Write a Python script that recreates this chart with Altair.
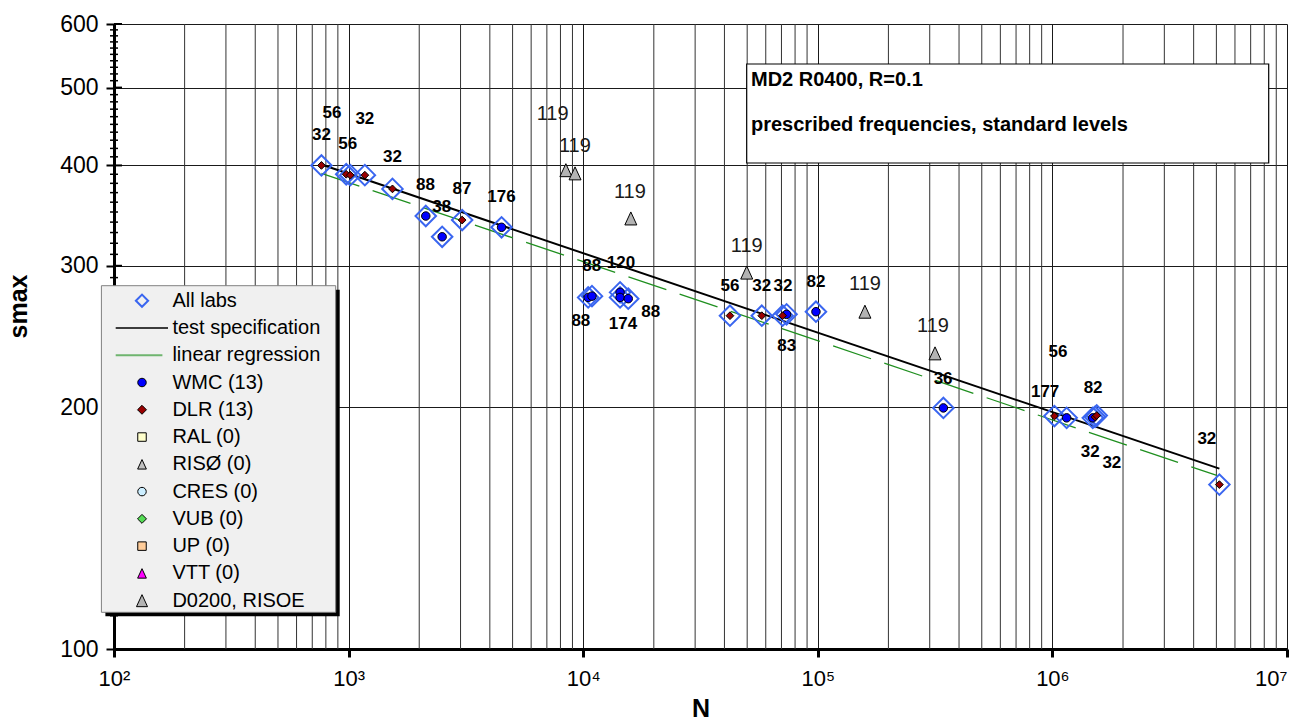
import altair as alt
import pandas as pd

FONT = "Liberation Sans"
W, H = 1173, 625

# ---------------- data ----------------
wmc_N = [2133, 2505, 4487, 10500, 10900, 14360, 14360, 15560, 73600, 98200, 343000, 1150000, 1486000]
wmc_s = [346, 326, 335, 274, 275, 278, 274, 273, 261, 263, 199.6, 194, 194]

dlr_N = [766, 977, 1017, 1173, 1538, 3048, 42230, 57700, 70800, 1020000, 1520000, 1545000, 5150000]
dlr_s = [400, 390, 389, 389, 374, 342, 260, 260, 260, 195, 194.5, 195.3, 160.2]

riso_N = [8436, 9230, 15960, 49770, 158800, 316000]
riso_s = [394.6, 391, 343.6, 294.2, 263, 233.4]

spec_N = [766, 5150000]
spec_s = [401, 167.7]
reg_N = [766, 5020000]
reg_s = [391, 164.5]

lab_text = ["32", "56", "56", "32", "32", "88", "38", "87", "176",
            "119", "119", "119",
            "88", "88", "120", "174", "88",
            "119", "56", "32", "32", "83", "82", "119", "119",
            "36", "177", "56", "82", "32", "32", "32"]
lab_N = [766, 850, 992, 1173, 1538, 2128, 2495, 3041, 4487,
         7405, 9218, 15810,
         10870, 9772, 14490, 14770, 19390,
         49770, 42230, 57700, 71070, 73700, 98240, 158900, 309900,
         342000, 931000, 1057000, 1491000, 1449000, 1792000, 4554000]
lab_s = [436, 465, 425.3, 456.6, 409.6, 378, 355.4, 373.9, 365.7,
         463.7, 422.8, 371,
         299.9, 256.3, 302.8, 254.1, 263.0,
         317.6, 283.3, 283.3, 283.3, 238.5, 286.5, 284.9, 252.6,
         217.1, 208.7, 234.0, 211.6, 175.9, 170.6, 182.7]
lab_bold = [t != "119" for t in lab_text]

legend_labels = ["All labs", "test specification", "linear regression", "WMC (13)", "DLR (13)",
                 "RAL (0)", "RISØ (0)", "CRES (0)", "VUB (0)", "UP (0)", "VTT (0)", "D0200, RISOE"]

decades = [100, 1000, 10000, 100000, 1000000, 10000000]
x_minor = [m * 10 ** k for k in range(2, 7) for m in range(2, 10)]
y_major = [100, 200, 300, 400, 500, 600]
y_minor = [v for v in range(110, 600, 10) if v % 100 != 0]

# ---------------- scales / axes ----------------
xscale = alt.Scale(type="log", domain=[100, 10000000], nice=False)
yscale = alt.Scale(type="log", domain=[100, 600], nice=False)

label_expr = ("datum.value >= 5000000 ? '10⁷' : datum.value >= 500000 ? '10⁶' : "
              "datum.value >= 50000 ? '10⁵' : datum.value >= 5000 ? '10⁴' : "
              "datum.value >= 500 ? '10³' : '10²'")

x_axis = alt.Axis(values=decades, labelExpr=label_expr, grid=True, gridColor="#1a1a1a", gridWidth=1,
                  ticks=True, tickSize=8, tickWidth=3, tickColor="black",
                  domain=True, domainColor="black", domainWidth=3,
                  labelFont=FONT, labelFontSize=22, labelColor="black", labelPadding=11,
                  labelFlush=False, labelOverlap=False,
                  labelAlign={"condition": {"test": "datum.value >= 5000000", "value": "right"},
                              "value": "center"},
                  title="N", titleFont=FONT, titleFontSize=25, titleFontWeight="bold",
                  titleColor="black", titleY=59, titleBaseline="middle")
y_axis = alt.Axis(values=y_major, format="d", grid=True, gridColor="#1a1a1a", gridWidth=1,
                  ticks=True, tickSize=8, tickWidth=2, tickColor="black",
                  domain=True, domainColor="black", domainWidth=3,
                  labelFont=FONT, labelFontSize=23, labelColor="black", labelPadding=8,
                  labelFlush=False, labelOverlap=False,
                  title="smax", titleFont=FONT, titleFontSize=25, titleFontWeight="bold",
                  titleColor="black", titleX=-96, titleY=282, titleAlign="center",
                  titleBaseline="middle")


def X(f):
    return alt.X(f, type="quantitative", scale=xscale, axis=x_axis)


def Y(f):
    return alt.Y(f, type="quantitative", scale=yscale, axis=y_axis)


one = pd.DataFrame({"a": [0]})
layers = []

# minor vertical grid
layers.append(alt.Chart(pd.DataFrame({"N": x_minor})).mark_rule(color="#333333", strokeWidth=1)
              .encode(x=X("N"), y=alt.value(0), y2=alt.value(H)))
# y minor ticks (crossing the axis) and inner halves of major ticks
layers.append(alt.Chart(pd.DataFrame({"s": y_minor})).mark_rule(color="black", strokeWidth=1.5)
              .encode(y=Y("s"), x=alt.value(-4), x2=alt.value(4)))
layers.append(alt.Chart(pd.DataFrame({"s": y_major[1:]})).mark_rule(color="black", strokeWidth=2)
              .encode(y=Y("s"), x=alt.value(0), x2=alt.value(8)))

# lines
layers.append(alt.Chart(pd.DataFrame({"N": reg_N, "s": reg_s})).mark_line(
    color="#1f8f1f", strokeWidth=1.3, strokeDash=[40, 14]).encode(x=X("N"), y=Y("s")))
layers.append(alt.Chart(pd.DataFrame({"N": spec_N, "s": spec_s})).mark_line(
    color="black", strokeWidth=2).encode(x=X("N"), y=Y("s")))

# points
all_df = pd.DataFrame({"N": wmc_N + dlr_N, "s": wmc_s + dlr_s})
layers.append(alt.Chart(all_df).mark_point(shape="diamond", filled=False, stroke="#3a66f0",
                                           strokeWidth=2, size=420, opacity=1)
              .encode(x=X("N"), y=Y("s")))
layers.append(alt.Chart(pd.DataFrame({"N": wmc_N, "s": wmc_s})).mark_point(
    shape="circle", filled=True, fill="#0000ff", stroke="black", strokeWidth=1, size=72, opacity=1)
    .encode(x=X("N"), y=Y("s")))
layers.append(alt.Chart(pd.DataFrame({"N": dlr_N, "s": dlr_s})).mark_point(
    shape="diamond", filled=True, fill="#990000", stroke="black", strokeWidth=1, size=60, opacity=1)
    .encode(x=X("N"), y=Y("s")))
TRI = "M0,-1L0.92,1L-0.92,1Z"
layers.append(alt.Chart(pd.DataFrame({"N": riso_N, "s": riso_s})).mark_point(
    shape=TRI, filled=True, fill="#b3b3b3", stroke="black", strokeWidth=1, size=169, opacity=1)
    .encode(x=X("N"), y=Y("s")))

# data labels
lab_df = pd.DataFrame({"t": lab_text, "N": lab_N, "s": lab_s, "bold": lab_bold})
layers.append(alt.Chart(lab_df).transform_filter("datum.bold").mark_text(
    font=FONT, fontSize=17, fontWeight="bold", color="black", align="center", baseline="middle")
    .encode(x=X("N"), y=Y("s"), text="t:N"))
layers.append(alt.Chart(lab_df).transform_filter("!datum.bold").mark_text(
    font=FONT, fontSize=20, color="#1a1a1a", align="center", baseline="middle")
    .encode(x=X("N"), y=Y("s"), text="t:N"))

# annotation box
layers.append(alt.Chart(one).mark_rect(fill="white", stroke="black", strokeWidth=1.2)
              .encode(x=alt.value(632.7), x2=alt.value(1154.7), y=alt.value(40), y2=alt.value(139)))
layers.append(alt.Chart(one).mark_text(font=FONT, fontSize=20, fontWeight="bold", color="black",
                                       align="left", baseline="middle")
              .encode(x=alt.value(637), y=alt.value(55.5), text=alt.value("MD2 R0400, R=0.1")))
layers.append(alt.Chart(one).mark_text(font=FONT, fontSize=20, fontWeight="bold", color="black",
                                       align="left", baseline="middle")
              .encode(x=alt.value(637), y=alt.value(101.2),
                      text=alt.value("prescribed frequencies, standard levels")))

# legend
LX0, LX1, LY0, LY1 = -12.6, 221.7, 261.7, 588.3
layers.append(alt.Chart(one).mark_rect(fill="black")
              .encode(x=alt.value(LX0 + 4), x2=alt.value(LX1 + 4), y=alt.value(LY0 + 4),
                      y2=alt.value(LY1 + 4)))
layers.append(alt.Chart(one).mark_rect(fill="#f0f0f0", stroke="#808080", strokeWidth=1)
              .encode(x=alt.value(LX0), x2=alt.value(LX1), y=alt.value(LY0), y2=alt.value(LY1)))

ROW0, DROW = 276.7, 27.27
SYMX, TXTX = 28, 58.4
sym_styles = {
    0: dict(shape="diamond", filled=False, stroke="#3a66f0", strokeWidth=2, size=150),
    3: dict(shape="circle", filled=True, fill="#0000ff", stroke="black", strokeWidth=1, size=72),
    4: dict(shape="diamond", filled=True, fill="#990000", stroke="black", strokeWidth=1, size=80),
    5: dict(shape="square", filled=True, fill="#ffffcc", stroke="black", strokeWidth=1, size=72),
    6: dict(shape=TRI, filled=True, fill="#c0c0c0", stroke="black", strokeWidth=1, size=90),
    7: dict(shape="circle", filled=True, fill="#cceeff", stroke="black", strokeWidth=1, size=72),
    8: dict(shape="diamond", filled=True, fill="#55dd55", stroke="black", strokeWidth=1, size=80),
    9: dict(shape="square", filled=True, fill="#ffcc99", stroke="black", strokeWidth=1, size=72),
    10: dict(shape=TRI, filled=True, fill="#ff00ff", stroke="black", strokeWidth=1, size=90),
    11: dict(shape=TRI, filled=True, fill="#b3b3b3", stroke="black", strokeWidth=1, size=144),
}
for i, lab in enumerate(legend_labels):
    yy = ROW0 + i * DROW
    if i in sym_styles:
        layers.append(alt.Chart(one).mark_point(opacity=1, **sym_styles[i])
                      .encode(x=alt.value(SYMX), y=alt.value(yy)))
    elif i == 1:
        layers.append(alt.Chart(one).mark_rule(color="black", strokeWidth=1.5)
                      .encode(x=alt.value(1.7), x2=alt.value(54), y=alt.value(yy)))
    else:
        layers.append(alt.Chart(one).mark_rule(color="#6fb56f", strokeWidth=2)
                      .encode(x=alt.value(1.7), x2=alt.value(48.4), y=alt.value(yy)))
    layers.append(alt.Chart(one).mark_text(font=FONT, fontSize=20, color="black", align="left",
                                           baseline="middle")
                  .encode(x=alt.value(TXTX), y=alt.value(yy), text=alt.value(lab)))

chart = alt.layer(*layers).properties(
    width=W, height=H, autosize="none",
    padding={"left": 114, "top": 24, "right": 5, "bottom": 71},
    background="white",
).configure_view(stroke=None)

chart.save("out.html", embed_options={"renderer": "svg", "actions": False})
